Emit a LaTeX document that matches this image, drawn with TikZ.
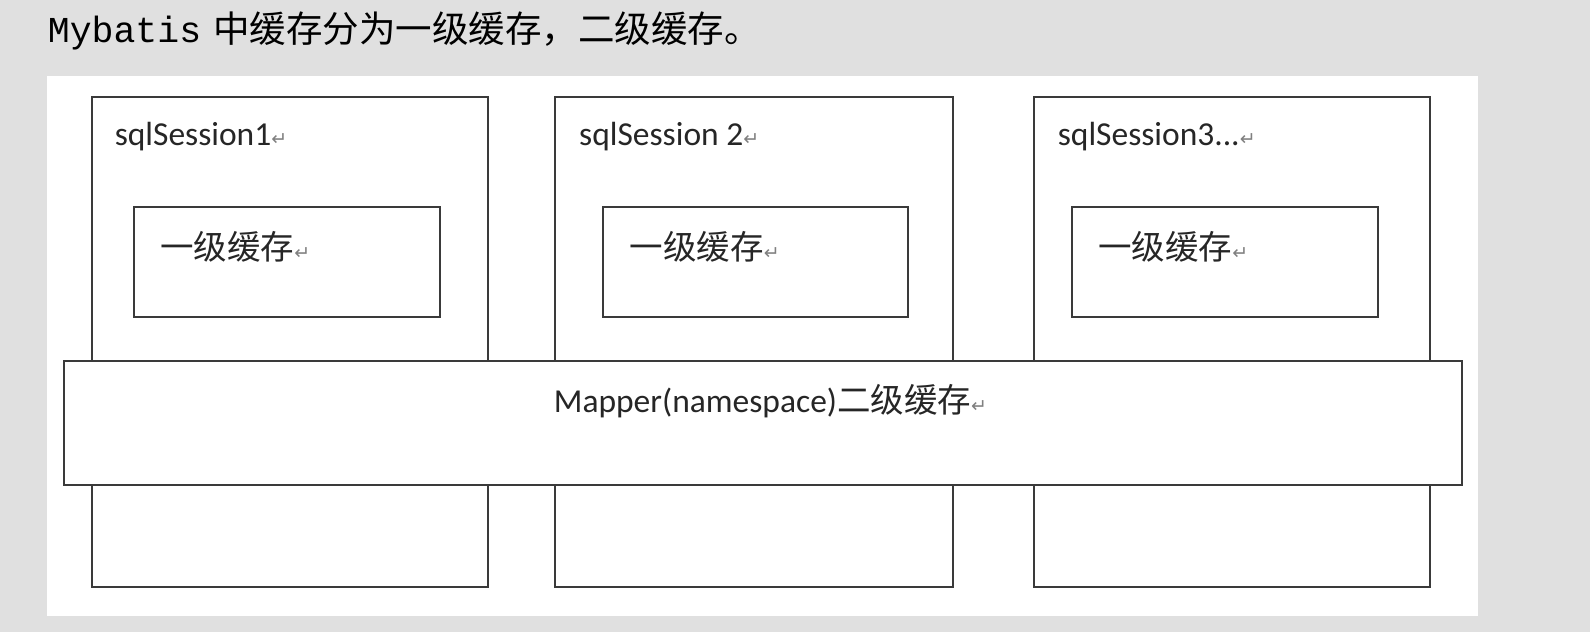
\documentclass[tikz,border=0pt]{standalone}
\usepackage{fontspec}
\setmainfont{Carlito}
\newfontfamily\cjk{Noto Sans CJK SC}
\newfontfamily\monof{Liberation Mono}
\newfontfamily\symf{DejaVu Sans}
\newcommand{\retmark}{{\symf\fontsize{19}{19}\selectfont\color{gray}↵}}
\definecolor{bggray}{HTML}{E0E0E0}
\definecolor{linegray}{HTML}{3A3A3A}
\tikzset{
  box/.style={draw=linegray, line width=1.9pt, fill=white, inner sep=0pt, anchor=north west},
  lbl/.style={inner sep=0pt, anchor=base west, font=\fontsize{33.5}{37}\selectfont, text=black!85}
}
\begin{document}
\begin{tikzpicture}[x=1.014pt,y=-1.014pt]
\fill[bggray] (0,0) rectangle (1568,623.2);
\useasboundingbox (0,0) rectangle (1568,623.2);
\fill[white] (46,75) rectangle (1458,607);
\node[inner sep=0pt, anchor=base west, font=\fontsize{36.5}{40}\selectfont] (title) at (47,42)
  {\monof Mybatis\hspace{12pt}\cjk 中缓存分为一级缓存，二级缓存。};
% session boxes
\node[box, minimum width=396pt, minimum height=490pt] (s1) at (90,95) {};
\node[box, minimum width=398pt, minimum height=490pt] (s2) at (546,95) {};
\node[box, minimum width=396pt, minimum height=490pt] (s3) at (1019,95) {};
% inner boxes
\node[box, minimum width=306pt, minimum height=110.5pt] (c1) at (131,203) {};
\node[box, minimum width=305pt, minimum height=110.5pt] (c2) at (594,203) {};
\node[box, minimum width=306pt, minimum height=110.5pt] (c3) at (1056,203) {};
% mapper box
\node[box, minimum width=1398pt, minimum height=123.7pt] (m) at (62,355) {};
% labels
\node[lbl] (t1) at (113,143) {sqlSession1\retmark};
\node[lbl] (t2) at (571,143) {sqlSession 2\retmark};
\node[lbl] (t3) at (1043,143) {sqlSession3...\retmark};
\node[lbl] (l1) at (158,256) {\cjk 一级缓存\retmark};
\node[lbl] (l2) at (621,256) {\cjk 一级缓存\retmark};
\node[lbl] (l3) at (1083,256) {\cjk 一级缓存\retmark};
\node[lbl] (ml) at (546,407) {Mapper(namespace)\cjk 二级缓存\retmark};
\end{tikzpicture}
\end{document}
